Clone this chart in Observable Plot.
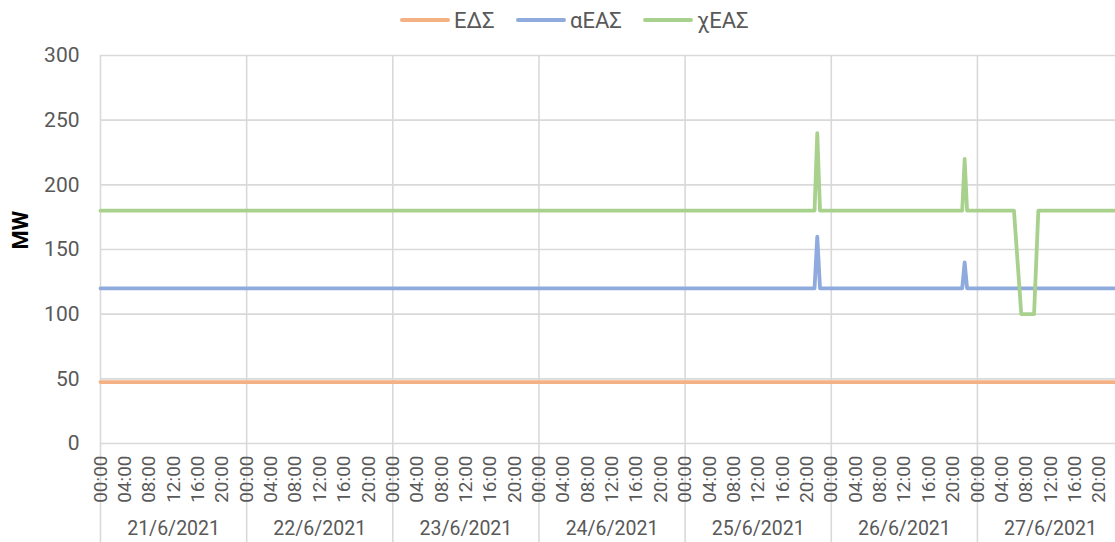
<!DOCTYPE html>
<html><head><meta charset="utf-8">
<script src="https://cdn.jsdelivr.net/npm/d3@7"></script>
<script src="https://cdn.jsdelivr.net/npm/@observablehq/plot@0.6"></script>
<style>
html,body{margin:0;padding:0;overflow:hidden;background:#fff;font-family:Roboto,"Noto Sans",sans-serif;}
#legend{position:relative;height:40px;width:1115px;}
.item{position:absolute;top:0;height:40px;display:flex;align-items:center;font-size:22px;color:#595959;}
.sw{width:50px;height:4px;border-radius:2px;margin-right:4px;}
#chart svg{display:block;}
</style></head><body>
<div id="legend"></div>
<div id="chart"></div>
<script>
// categories / tick labels
const days = ["21/6/2021","22/6/2021","23/6/2021","24/6/2021","25/6/2021","26/6/2021","27/6/2021"];
const hourLabels = ["00:00","04:00","08:00","12:00","16:00","20:00"];
const yTicks = [0,50,100,150,200,250,300];
const seriesNames = ["ΕΔΣ","αΕΑΣ","χΕΑΣ"];
const seriesColors = ["#F4B183","#8FAADC","#A9D18E"];

// line vertices: hours since 21/6/2021 00:00 and MW values
const edsHours   = [0, 167.5];
const edsValues  = [47.5, 47.5];
const aeasHours  = [0, 117.25, 117.7, 118.15, 141.5, 141.9, 142.3, 167.5];
const aeasValues = [120, 120, 160, 120, 120, 140, 120, 120];
const xeasHours  = [0, 117.25, 117.7, 118.15, 141.5, 141.9, 142.3, 150.0, 151.2, 153.3, 154.0, 167.5];
const xeasValues = [180, 180, 240, 180, 180, 220, 180, 180, 100, 100, 180, 180];

const series = [
  {name: seriesNames[0], color: seriesColors[0], hours: edsHours, values: edsValues},
  {name: seriesNames[1], color: seriesColors[1], hours: aeasHours, values: aeasValues},
  {name: seriesNames[2], color: seriesColors[2], hours: xeasHours, values: xeasValues}
];

// legend
const legendLeft = [400, 516, 643];
const legend = document.getElementById("legend");
series.forEach((s, i) => {
  const it = document.createElement("div");
  it.className = "item";
  it.style.left = legendLeft[i] + "px";
  const sw = document.createElement("div");
  sw.className = "sw";
  sw.style.background = s.color;
  it.appendChild(sw);
  const t = document.createElement("span");
  t.textContent = s.name;
  it.appendChild(t);
  legend.appendChild(it);
});

const rows = [];
series.forEach(s => s.hours.forEach((h, j) => rows.push({series: s.name, hour: h, value: s.values[j], color: s.color})));

const dayBounds = d3.range(0, days.length).map(k => k * 24);
const hourTicks = d3.range(0, days.length * 24, 4).map(h => ({hour: h, label: hourLabels[(h / 4) % 6]}));
const dayLabels = days.map((d, k) => ({hour: k * 24 + 12, label: d}));

const grid = "#D9D9D9";
const textColor = "#595959";

const chart = Plot.plot({
  width: 1115,
  height: 502,
  marginTop: 15,
  marginBottom: 99,
  marginLeft: 100,
  marginRight: 0,
  style: {overflow: "hidden", fontFamily: "Roboto, sans-serif", background: "#fff"},
  x: {domain: [0, 167], range: [100, 1117], axis: null},
  y: {domain: [0, 300], axis: null},
  marks: [
    Plot.ruleY(yTicks, {stroke: grid, strokeWidth: 1.6}),
    Plot.ruleX(dayBounds, {stroke: grid, strokeWidth: 1.6, insetBottom: -99}),
    Plot.text(yTicks, {y: d => d, text: d => String(d), frameAnchor: "left", textAnchor: "end", dx: -21, fill: textColor, fontSize: 21}),
    Plot.text(["MW"], {frameAnchor: "left", dx: -80, rotate: -90, text: d => d, fontWeight: "bold", fontSize: 22, fill: "#000"}),
    Plot.text(hourTicks, {x: "hour", text: "label", frameAnchor: "bottom", rotate: -90, textAnchor: "end", lineAnchor: "middle", dy: 12, fill: textColor, fontSize: 19}),
    Plot.text(dayLabels, {x: "hour", text: "label", frameAnchor: "bottom", lineAnchor: "middle", dy: 85, fill: textColor, fontSize: 19.5}),
    Plot.line(rows, {x: "hour", y: "value", z: "series", stroke: "color", strokeWidth: 3.8, strokeLinejoin: "round", strokeLinecap: "round"})
  ]
});
document.getElementById("chart").appendChild(chart);
</script>
</body></html>
